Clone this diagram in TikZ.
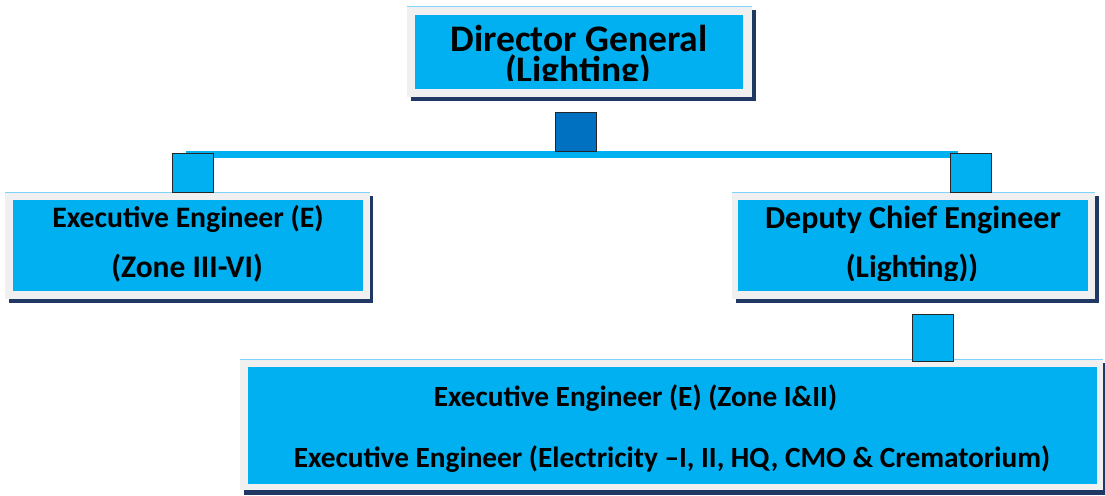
\documentclass[tikz,border=0pt]{standalone}
\usepackage{fontspec}
\setmainfont{Carlito}
\definecolor{boxcyan}{HTML}{00B0F0}
\definecolor{framegray}{HTML}{F0F0F0}
\definecolor{shadownavy}{HTML}{1F3864}
\definecolor{darkblue}{HTML}{0070C0}
\definecolor{topline}{HTML}{7FD3F7}
\newcommand{\fsz}[1]{\bfseries\fontsize{#1}{#1}\selectfont}
\tikzset{
  shadowbox/.style={fill=shadownavy},
  framebox/.style={fill=framegray},
  innerbox/.style={fill=boxcyan},
  lbl/.style={inner sep=0pt, anchor=base, font=\fsz{29.3}},
  sq/.style={draw=black!85, line width=0.9pt, minimum width=41pt, inner sep=0pt},
  bar/.style={draw=boxcyan, line width=7pt}
}
\begin{document}
\begin{tikzpicture}[x=1pt,y=-1pt]
\useasboundingbox (0,0) rectangle (1105,495);
% ---------- top box ----------
\fill[shadowbox] (411,10) rectangle (756,101);
\fill[framebox] (407,6) rectangle (752,97);
\draw[topline, line width=1pt] (407,6.5) -- (752,6.5);
\fill[innerbox] (415,15) rectangle (743,89);
\node[lbl, font=\fsz{37.5}] (dg) at (579,52) {Director General};
\begin{scope}
\clip (415,15) rectangle (743,80.7);
\node[lbl, font=\fsz{37.5}] (dgb) at (578,82.5) {(Lighting)};
\end{scope}
% ---------- left box ----------
\fill[shadowbox] (9,196) rectangle (373,303);
\fill[framebox] (5,192) rectangle (370,299);
\draw[topline, line width=1pt] (5,192.5) -- (370,192.5);
\fill[innerbox] (13,200) rectangle (363,291);
\node[lbl, font=\fsz{29.7}] (ee) at (188,227) {Executive Engineer (E)};
\node[lbl, font=\fsz{31.5}] (eeb) at (187,277) {(Zone III-VI)};
% ---------- right box ----------
\fill[shadowbox] (736,196) rectangle (1098.5,303);
\fill[framebox] (732,192) rectangle (1095,299);
\draw[topline, line width=1pt] (732,192.5) -- (1095,192.5);
\fill[innerbox] (738,200) rectangle (1088,290.5);
\node[lbl, font=\fsz{32}] (dce) at (913,228) {Deputy Chief Engineer};
\begin{scope}
\clip (738,200) rectangle (1088,280.7);
\node[lbl, font=\fsz{31.5}] (dceb) at (912,277) {(Lighting))};
\end{scope}
% ---------- bottom box ----------
\fill[shadowbox] (244,363) rectangle (1108,494.5);
\fill[framebox] (240,359) rectangle (1103,490);
\draw[topline, line width=1pt] (240,359.5) -- (1103,359.5);
\fill[innerbox] (248,367) rectangle (1097,484);
\node[lbl] (b1) at (635.5,406) {Executive Engineer (E) (Zone I\&II)};
\node[lbl] (b2) at (672,467) {Executive Engineer (Electricity –I, II, HQ, CMO \& Crematorium)};
% ---------- connectors ----------
\coordinate (barL) at (186,154.5);
\coordinate (barR) at (958,154.5);
\draw[bar] (barL) -- (barR);
\node[sq, fill=darkblue, minimum height=39pt] (tsq) at (576,131.5) {};
\node[sq, fill=boxcyan, minimum height=39pt] (lsq) at (193,172.5) {};
\node[sq, fill=boxcyan, minimum height=39pt] (rsq) at (970.5,172.5) {};
\node[sq, fill=boxcyan, minimum height=47pt] (bsq) at (933,337.5) {};
\end{tikzpicture}
\end{document}
